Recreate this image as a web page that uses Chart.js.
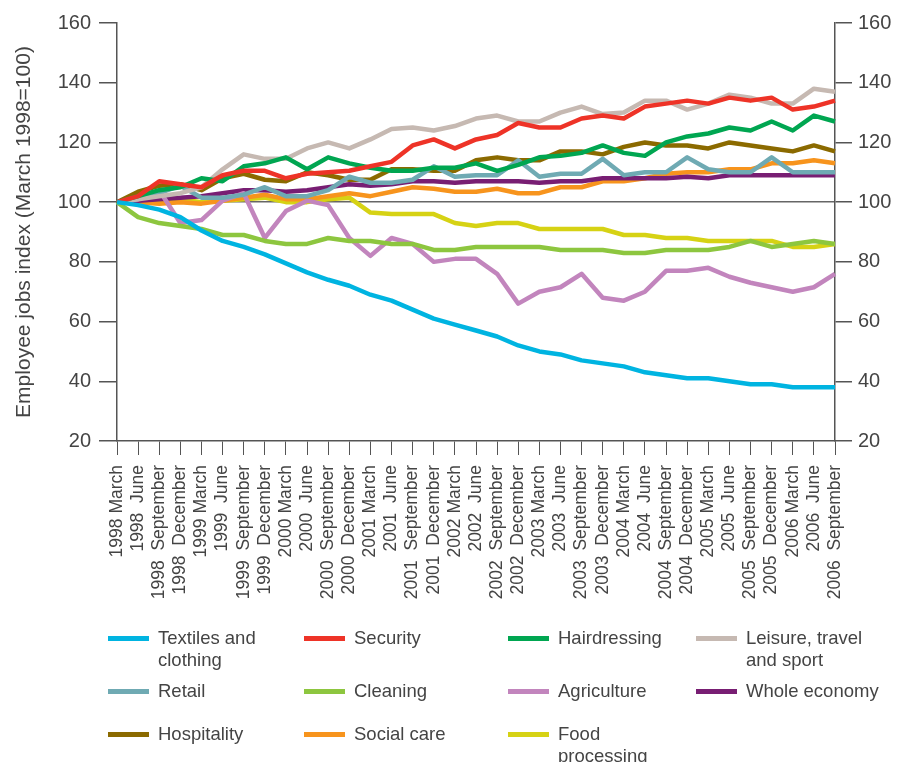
<!DOCTYPE html>
<html>
<head>
<meta charset="utf-8">
<title>Employee jobs index</title>
<script src="https://cdn.jsdelivr.net/npm/chart.js@4.4.1/dist/chart.umd.min.js"></script>
<style>
body { margin: 0; background: #fff; }
#wrap { position: relative; width: 899px; height: 762px; overflow: hidden; }
#legend { position: absolute; left: 0; top: 0; width: 899px; height: 762px; pointer-events: none;
  font-family: 'Liberation Sans', Arial, sans-serif; font-size: 18.5px; color: #444; }
.swatch { position: absolute; width: 41px; height: 5px; }
.lbl { position: absolute; white-space: pre; line-height: 22px; }
</style>
</head>
<body>
<div id="wrap">
  <canvas id="jobs-chart" width="899" height="762"></canvas>
  <div id="legend"></div>
</div>
<script>
// quarters, March 1998 to September 2006
var quarters = [
  '1998 March', '1998  June', '1998  September', '1998  December',
  '1999 March', '1999  June', '1999  September', '1999  December',
  '2000 March', '2000  June', '2000  September', '2000  December',
  '2001 March', '2001  June', '2001  September', '2001  December',
  '2002 March', '2002  June', '2002  September', '2002  December',
  '2003 March', '2003  June', '2003  September', '2003  December',
  '2004 March', '2004  June', '2004  September', '2004  December',
  '2005 March', '2005  June', '2005  September', '2005  December',
  '2006 March', '2006  June', '2006  September'
];
var yTicks = [20, 40, 60, 80, 100, 120, 140, 160];

var textiles    = [100,99,97.5,95,90.5,87,85,82.5,79.5,76.5,74,72,69,67,64,61,59,57,55,52,50,49,47,46,45,43,42,41,41,40,39,39,38,38,38];
var security    = [100,102,107,106,105,109,110.5,110.5,108,109.5,110,110.5,112,113.5,119,121,118,121,122.5,126.5,125,125,128,129,128,132,133,134,133,135,134,135,131,132,134];
var hairdressing= [100,102,104,105,108,107,112,113,115,111,115,113,111.5,110.5,110.5,111.5,111.5,113,110.5,112.5,115,115.5,116.5,119,116.5,115.5,120,122,123,125,124,127,124,129,127];
var leisure     = [100,101,102,103,105,111,116,114.5,114.5,118,120,118,121,124.5,125,124,125.5,128,129,127,127,130,132,129.5,130,134,134,131,133,136,135,133,133,138,137];
var retail      = [100,101.5,103,105.5,101.5,101.5,102.5,105,102,102,104,108.5,106.5,106.5,107.5,112,108.5,109,109,114,108.5,109.5,109.5,114.5,109,110,110,115,111,110,110,115,110,110,110];
var cleaning    = [100,95,93,92,91,89,89,87,86,86,88,87,87,86,86,84,84,85,85,85,85,84,84,84,83,83,84,84,84,85,87,85,86,87,86];
var agriculture = [100,101,104,93,94,100.5,103,88,97,100.5,99,88,82,88,86,80,81,81,76,66,70,71.5,76,68,67,70,77,77,78,75,73,71.5,70,71.5,76];
var wholeEconomy= [100,100.5,101,101.5,102,103,104,104,103.5,104,105,106,105.5,106,107,107,106.5,107,107,107,106.5,107,107,108,108,108,108,108.5,108,109,109,109,109,109,109];
var hospitality = [100,103.5,105.5,106,104,108,109.5,107.5,107,110,109,107.5,107.5,111,111,110.5,110.5,114,115,114,114,117,117,116,118.5,120,119,119,118,120,119,118,117,119,117];
var socialCare  = [100,100,99.5,100,99.5,100.5,101.5,102.5,101,101,102,103,102,103.5,105,104.5,103.5,103.5,104.5,103,103,105,105,107,107,108,109.5,110,110,111,111,113,113,114,113];
var food        = [100,100,100.5,101,100,100.5,101,101.5,100,100,101,101.5,96.5,96,96,96,93,92,93,93,91,91,91,91,89,89,88,88,87,87,87,87,85,85,86];

var seriesNames = ['Textiles and\nclothing', 'Security', 'Hairdressing', 'Leisure, travel\nand sport',
  'Retail', 'Cleaning', 'Agriculture', 'Whole economy',
  'Hospitality', 'Social care', 'Food\nprocessing'];
var seriesValues = [textiles, security, hairdressing, leisure, retail, cleaning, agriculture,
  wholeEconomy, hospitality, socialCare, food];
var seriesColors = ['#00b4e1', '#ee3327', '#00a651', '#c6b9b2', '#6faab3', '#8dc63f', '#c285bd',
  '#781e73', '#8b6a00', '#f7941d', '#d6d214'];

var FONT = "'Liberation Sans', Arial, sans-serif";
var AXIS = '#555';

var datasets = [];
for (var i = 0; i < seriesValues.length; i++) {
  datasets.push({
    label: seriesNames[i].replace('\n', ' '),
    data: seriesValues[i],
    borderColor: seriesColors[i],
    backgroundColor: seriesColors[i],
    borderWidth: 4.5,
    fill: false,
    tension: 0,
    pointRadius: 0,
    borderJoinStyle: 'round'
  });
}

function yAxis(position, width, tickLen, pad) {
  return {
    position: position,
    min: 20, max: 160,
    afterBuildTicks: function(scale) { scale.ticks = yTicks.map(function(v){ return {value: v}; }); },
    afterFit: function(scale) { scale.width = width; },
    border: { display: true, color: AXIS, width: 1.5 },
    grid: {
      drawOnChartArea: position === 'left',
      color: function(ctx) { return ctx.tick && ctx.tick.value === 100 ? '#666' : 'rgba(0,0,0,0)'; },
      lineWidth: 1.5,
      tickColor: AXIS,
      tickLength: tickLen
    },
    ticks: { color: '#444', padding: pad, font: { family: FONT, size: 20 } }
  };
}

var leftAxis = yAxis('left', 117, 18, 8);
leftAxis.title = {
  display: true,
  text: 'Employee jobs index (March 1998=100)',
  align: 'center',
  color: '#444',
  font: { family: FONT, size: 21 },
  padding: { top: 12, bottom: 0 }
};
var rightAxis = yAxis('right', 64, 17, 6);

var ctx = document.getElementById('jobs-chart').getContext('2d');
var jobsChart = new Chart(ctx, {
  type: 'line',
  data: { labels: quarters, datasets: datasets },
  options: {
    responsive: false,
    animation: false,
    layout: { padding: { top: 23, left: 0, right: 0, bottom: 0 } },
    plugins: { legend: { display: false }, tooltip: { enabled: false } },
    scales: {
      x: {
        offset: false,
        afterFit: function(scale) { scale.height = 321; },
        border: { display: true, color: AXIS, width: 1.5 },
        grid: { drawOnChartArea: false, tickColor: AXIS, tickLength: 14 },
        ticks: {
          autoSkip: false, minRotation: 90, maxRotation: 90, padding: 10,
          color: '#444', font: { family: FONT, size: 17.5 }
        }
      },
      y: leftAxis,
      y2: rightAxis
    }
  }
});

// legend below the chart, four columns, three rows
var legend = document.getElementById('legend');
var colLeft = [108, 304, 508, 696];
var rowTop = [627, 680, 723];
for (var k = 0; k < seriesNames.length; k++) {
  var col = k % 4, row = Math.floor(k / 4);
  var sw = document.createElement('div');
  sw.className = 'swatch';
  sw.style.left = colLeft[col] + 'px';
  sw.style.top = (rowTop[row] + 9) + 'px';
  sw.style.background = seriesColors[k];
  legend.appendChild(sw);
  var lb = document.createElement('div');
  lb.className = 'lbl';
  lb.style.left = (colLeft[col] + 50) + 'px';
  lb.style.top = rowTop[row] + 'px';
  lb.textContent = seriesNames[k];
  legend.appendChild(lb);
}
</script>
</body>
</html>
